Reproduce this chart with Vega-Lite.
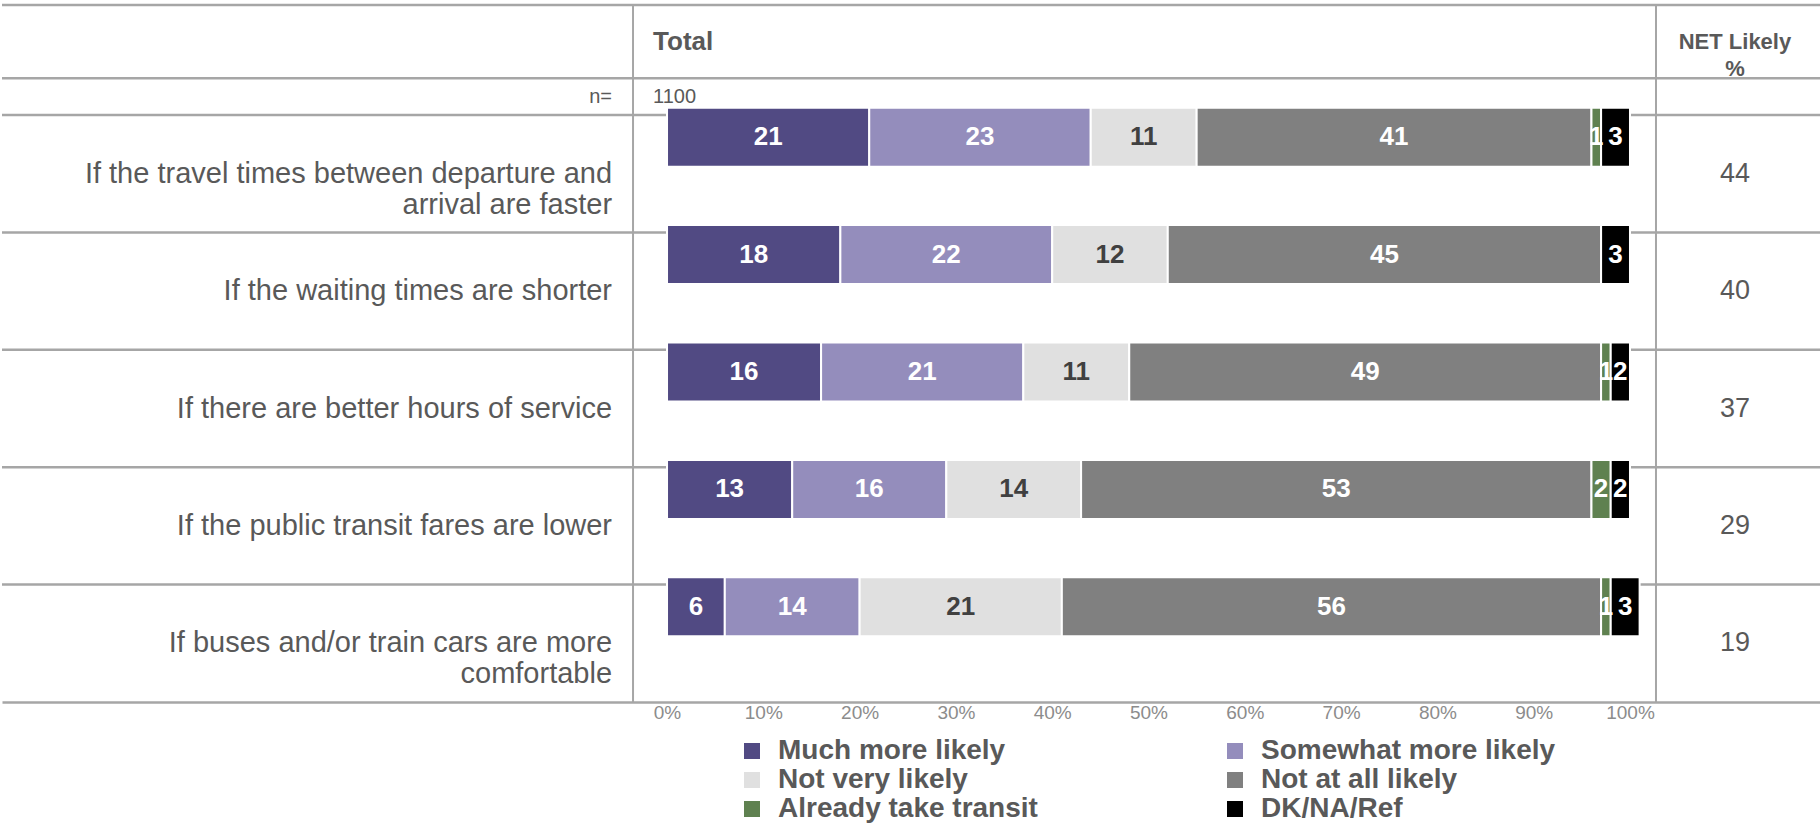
{
  "$schema": "https://vega.github.io/schema/vega-lite/v6.json",
  "padding": {"top": 3, "left": 0, "right": 0, "bottom": 0},
  "config": {
    "view": {"stroke": null},
    "font": "Liberation Sans",
    "text": {"font": "Liberation Sans"},
    "axis": {"labelFont": "Liberation Sans"},
    "legend": {"labelFont": "Liberation Sans"}
  },
  "datasets": {
    "bars": [
      {"q": "q1", "response": "Much more likely", "k": 1, "pct": 21},
      {"q": "q1", "response": "Somewhat more likely", "k": 2, "pct": 23},
      {"q": "q1", "response": "Not very likely", "k": 3, "pct": 11},
      {"q": "q1", "response": "Not at all likely", "k": 4, "pct": 41},
      {"q": "q1", "response": "Already take transit", "k": 5, "pct": 1},
      {"q": "q1", "response": "DK/NA/Ref", "k": 6, "pct": 3},
      {"q": "q2", "response": "Much more likely", "k": 1, "pct": 18},
      {"q": "q2", "response": "Somewhat more likely", "k": 2, "pct": 22},
      {"q": "q2", "response": "Not very likely", "k": 3, "pct": 12},
      {"q": "q2", "response": "Not at all likely", "k": 4, "pct": 45},
      {"q": "q2", "response": "DK/NA/Ref", "k": 6, "pct": 3},
      {"q": "q3", "response": "Much more likely", "k": 1, "pct": 16},
      {"q": "q3", "response": "Somewhat more likely", "k": 2, "pct": 21},
      {"q": "q3", "response": "Not very likely", "k": 3, "pct": 11},
      {"q": "q3", "response": "Not at all likely", "k": 4, "pct": 49},
      {"q": "q3", "response": "Already take transit", "k": 5, "pct": 1},
      {"q": "q3", "response": "DK/NA/Ref", "k": 6, "pct": 2},
      {"q": "q4", "response": "Much more likely", "k": 1, "pct": 13},
      {"q": "q4", "response": "Somewhat more likely", "k": 2, "pct": 16},
      {"q": "q4", "response": "Not very likely", "k": 3, "pct": 14},
      {"q": "q4", "response": "Not at all likely", "k": 4, "pct": 53},
      {"q": "q4", "response": "Already take transit", "k": 5, "pct": 2},
      {"q": "q4", "response": "DK/NA/Ref", "k": 6, "pct": 2},
      {"q": "q5", "response": "Much more likely", "k": 1, "pct": 6},
      {"q": "q5", "response": "Somewhat more likely", "k": 2, "pct": 14},
      {"q": "q5", "response": "Not very likely", "k": 3, "pct": 21},
      {"q": "q5", "response": "Not at all likely", "k": 4, "pct": 56},
      {"q": "q5", "response": "Already take transit", "k": 5, "pct": 1},
      {"q": "q5", "response": "DK/NA/Ref", "k": 6, "pct": 3}
    ],
    "items": [
      {"q": "q1", "label": "If the travel times between departure and\narrival are faster", "net": 44},
      {"q": "q2", "label": "If the waiting times are shorter", "net": 40},
      {"q": "q3", "label": "If there are better hours of service", "net": 37},
      {"q": "q4", "label": "If the public transit fares are lower", "net": 29},
      {"q": "q5", "label": "If buses and/or train cars are more\ncomfortable", "net": 19}
    ]
  },
  "spacing": 0,
  "bounds": "flush",
  "vconcat": [
    {
      "width": 1820,
      "height": 110,
      "layer": [
        {
          "data": {"values": [{"row": "h1"}, {"row": "n"}]},
          "mark": {"type": "rule", "color": "#A6A6A6", "strokeWidth": 2.5},
          "encoding": {
            "y": {"field": "row", "type": "nominal", "bandPosition": 0,
                  "scale": {"domain": ["h1", "h2", "n"]}, "axis": null}
          }
        },
        {
          "data": {"values": [{"v": 0}]},
          "mark": {"type": "rule", "color": "#A6A6A6", "strokeWidth": 2},
          "encoding": {
            "x": {"datum": -3.53, "type": "quantitative",
                  "scale": {"domain": [-69.06, 119.94], "nice": false, "zero": false}, "axis": null}
          }
        },
        {
          "data": {"values": [{"v": 0}]},
          "mark": {"type": "rule", "color": "#A6A6A6", "strokeWidth": 2},
          "encoding": {
            "x": {"datum": 102.7, "type": "quantitative"}
          }
        },
        {
          "data": {"values": [{"t": "Total", "row": "h1"}]},
          "mark": {"type": "text", "align": "left", "baseline": "middle", "fontSize": 26, "fontWeight": "bold", "color": "#595959"},
          "encoding": {
            "x": {"datum": -1.45, "type": "quantitative"},
            "y": {"field": "row", "type": "nominal", "bandPosition": 1},
            "text": {"field": "t"}
          }
        },
        {
          "data": {"values": [{"t": "NET Likely\n%", "row": "h1"}]},
          "mark": {"type": "text", "align": "center", "baseline": "middle", "fontSize": 22, "fontWeight": "bold", "color": "#595959", "lineBreak": "\n", "lineHeight": 27},
          "encoding": {
            "x": {"datum": 110.9, "type": "quantitative"},
            "y": {"field": "row", "type": "nominal", "bandPosition": 1},
            "text": {"field": "t"}
          }
        },
        {
          "data": {"values": [{"t": "n=", "row": "n"}]},
          "mark": {"type": "text", "align": "right", "baseline": "middle", "fontSize": 20, "color": "#595959"},
          "encoding": {
            "x": {"datum": -5.71, "type": "quantitative"},
            "y": {"field": "row", "type": "nominal"},
            "text": {"field": "t"}
          }
        },
        {
          "data": {"values": [{"t": "1100", "row": "n"}]},
          "mark": {"type": "text", "align": "left", "baseline": "middle", "fontSize": 20, "color": "#595959"},
          "encoding": {
            "x": {"datum": -1.45, "type": "quantitative"},
            "y": {"field": "row", "type": "nominal"},
            "text": {"field": "t"}
          }
        }
      ]
    },
    {
      "width": 1820,
      "height": 587,
      "layer": [
        {
          "data": {"name": "items"},
          "mark": {"type": "rule", "color": "#A6A6A6", "strokeWidth": 2.5},
          "encoding": {
            "y": {"field": "q", "type": "nominal", "bandPosition": 0,
                  "scale": {"domain": ["q1", "q2", "q3", "q4", "q5"]}, "axis": null}
          }
        },
        {
          "data": {"values": [{"v": 0}]},
          "mark": {"type": "rule", "color": "#A6A6A6", "strokeWidth": 2},
          "encoding": {
            "x": {"datum": -3.53, "type": "quantitative",
                  "scale": {"domain": [-69.06, 119.94], "nice": false, "zero": false},
                  "axis": {"values": [0, 10, 20, 30, 40, 50, 60, 70, 80, 90, 100], "labelExpr": "datum.value + '%'",
                           "labelFontSize": 19, "labelColor": "#8C8C8C", "labelPadding": 1, "ticks": false, "grid": false,
                           "domain": true, "domainColor": "#A6A6A6", "domainWidth": 2.5, "title": null}}
          }
        },
        {
          "data": {"values": [{"v": 0}]},
          "mark": {"type": "rule", "color": "#A6A6A6", "strokeWidth": 2},
          "encoding": {
            "x": {"datum": 102.7, "type": "quantitative"}
          }
        },
        {
          "data": {"name": "bars"},
          "mark": {"type": "bar", "height": 59, "yOffset": -36.5, "stroke": "white", "strokeWidth": 2},
          "encoding": {
            "y": {"field": "q", "type": "nominal"},
            "x": {"field": "pct", "type": "quantitative", "stack": "zero"},
            "order": {"field": "k", "type": "quantitative"},
            "color": {
              "field": "response", "type": "nominal",
              "scale": {
                "domain": ["Much more likely", "Not very likely", "Already take transit", "Somewhat more likely", "Not at all likely", "DK/NA/Ref"],
                "range": ["#514A83", "#E0E0E0", "#5F8150", "#948DBC", "#808080", "#000000"]
              },
              "legend": {
                "orient": "none", "legendX": 736, "legendY": 732, "columns": 2, "title": null,
                "symbolType": "square", "symbolSize": 256, "symbolStrokeWidth": 0,
                "labelFontSize": 28, "labelFontWeight": "bold", "labelColor": "#595959",
                "labelLimit": 500, "labelOffset": 12, "rowPadding": 1, "columnPadding": 183
              }
            }
          }
        },
        {
          "data": {"name": "bars"},
          "mark": {"type": "text", "fontSize": 26, "fontWeight": "bold", "baseline": "middle", "align": "center", "yOffset": -36.5},
          "encoding": {
            "y": {"field": "q", "type": "nominal"},
            "x": {"field": "pct", "type": "quantitative", "stack": "zero", "bandPosition": 0.5},
            "order": {"field": "k", "type": "quantitative"},
            "detail": {"field": "response"},
            "text": {"field": "pct"},
            "color": {"condition": {"test": "datum.response === 'Not very likely'", "value": "#404040"}, "value": "#FFFFFF"}
          }
        },
        {
          "data": {"name": "items"},
          "mark": {"type": "text", "align": "right", "baseline": "middle", "fontSize": 29, "color": "#595959", "lineBreak": "\n", "lineHeight": 31},
          "encoding": {
            "y": {"field": "q", "type": "nominal"},
            "x": {"datum": -5.71, "type": "quantitative"},
            "text": {"field": "label"}
          }
        },
        {
          "data": {"name": "items"},
          "mark": {"type": "text", "align": "center", "baseline": "middle", "fontSize": 27, "color": "#595959"},
          "encoding": {
            "y": {"field": "q", "type": "nominal"},
            "x": {"datum": 110.9, "type": "quantitative"},
            "text": {"field": "net"}
          }
        }
      ]
    }
  ]
}
